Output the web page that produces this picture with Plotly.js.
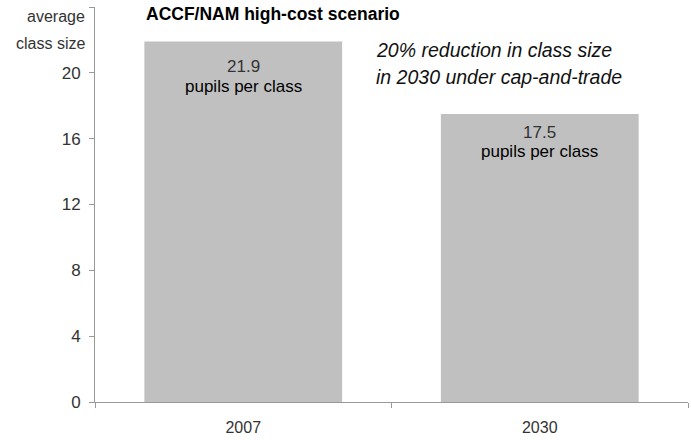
<!DOCTYPE html>
<html><head><meta charset="utf-8">
<script src="https://cdn.plot.ly/plotly-3.0.1.min.js"></script>
<style>html,body{margin:0;padding:0;background:#fff}#chart{width:691px;height:440px}</style>
</head><body><div id="chart"></div>
<script>
const categories = ["2007", "2030"];
const classSize = [21.9, 17.5];
const unitLabel = "pupils per class";
const yTickVals = [0, 4, 8, 12, 16, 20, 24];
const yTickText = ["0", "4", "8", "12", "16", "20", ""];
const titleText = "ACCF/NAM high-cost scenario";
const yTitleLines = ["average", "class size"];
const noteLines = ["20% reduction in class size", "in 2030 under cap-and-trade"];

const F = "Liberation Sans, Arial, sans-serif";
const numShift = [-25, -19];
const lblShift = [-45, -38];

const annotations = [];
categories.forEach((c, i) => {
  annotations.push({x: i, y: classSize[i], xref: "x", yref: "y", text: classSize[i].toFixed(1),
    showarrow: false, yanchor: "middle", yshift: numShift[i], font: {family: F, size: 17, color: "#333"}});
  annotations.push({x: i, y: classSize[i], xref: "x", yref: "y", text: unitLabel,
    showarrow: false, yanchor: "middle", yshift: lblShift[i], font: {family: F, size: 17, color: "#000"}});
});
annotations.push({xref: "paper", yref: "paper", x: -0.013, y: 1.0, yshift: -9, xanchor: "right", yanchor: "middle",
  text: yTitleLines[0], showarrow: false, font: {family: F, size: 16, color: "#333"}});
annotations.push({xref: "paper", yref: "paper", x: -0.013, y: 1.0, yshift: -36, xanchor: "right", yanchor: "middle",
  text: yTitleLines[1], showarrow: false, font: {family: F, size: 16, color: "#333"}});
annotations.push({xref: "paper", yref: "paper", x: 0.47, y: 1.0, yshift: -43, xanchor: "left", yanchor: "middle",
  text: "<i>" + noteLines[0] + "</i>", showarrow: false, font: {family: F, size: 19.5, color: "#111"}});
annotations.push({xref: "paper", yref: "paper", x: 0.47, y: 1.0, yshift: -70, xanchor: "left", yanchor: "middle",
  text: "<i>" + noteLines[1] + "</i>", showarrow: false, font: {family: F, size: 19.5, color: "#111"}});

const trace = {type: "bar", x: categories, y: classSize, marker: {color: "#c0c0c0"}, hoverinfo: "none"};

const layout = {
  width: 691, height: 440,
  margin: {l: 95, r: 3, t: 7, b: 38},
  paper_bgcolor: "#fff", plot_bgcolor: "#fff",
  showlegend: false,
  bargap: 0.333,
  title: {text: "<b>" + titleText + "</b>", x: 146/691, xanchor: "left", xref: "container", y: 1 - 14/440, yanchor: "middle",
    font: {family: F, size: 17.5, color: "#000"}},
  xaxis: {type: "category", range: [-0.5, 1.5], showline: true, linecolor: "#999", linewidth: 1,
    ticks: "outside", tickson: "boundaries", ticklen: 5, tickcolor: "#999", showgrid: false, zeroline: false,
    tickfont: {family: F, size: 16, color: "#333"}, ticklabelstandoff: 11},
  yaxis: {range: [0, 24], tickvals: yTickVals, ticktext: yTickText, showline: true, linecolor: "#999", linewidth: 1,
    ticks: "outside", ticklen: 5, tickcolor: "#999", showgrid: false, zeroline: false,
    tickfont: {family: F, size: 17, color: "#333"}, ticklabelstandoff: 5},
  annotations: annotations
};
Plotly.newPlot("chart", [trace], layout, {staticPlot: true, displayModeBar: false});
</script></body></html>
